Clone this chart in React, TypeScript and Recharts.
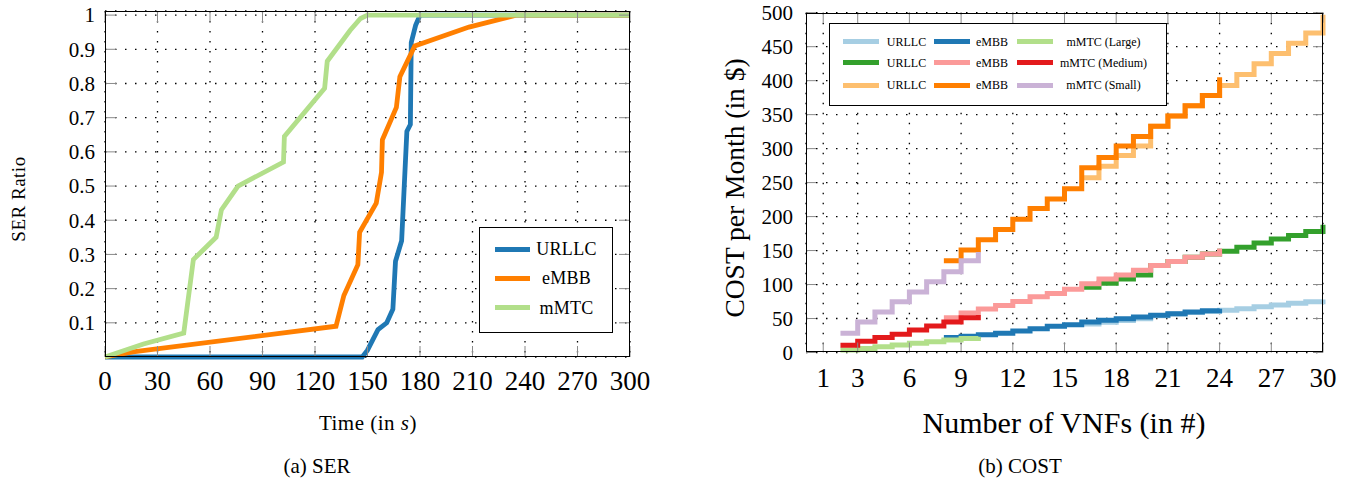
import { LineChart, Line, XAxis, YAxis, CartesianGrid } from 'recharts';

// ---- (a) SER ----
const serTicksX = [0, 30, 60, 90, 120, 150, 180, 210, 240, 270, 300];
const serTicksY = [0.1, 0.2, 0.3, 0.4, 0.5, 0.6, 0.7, 0.8, 0.9, 1];

const urllcTime = [0, 147, 150, 156, 161, 164.5, 166, 169.5, 172.5, 174.5, 175, 177.5, 180, 300];
const urllcSer = [0, 0, 0.02, 0.08, 0.1, 0.14, 0.28, 0.34, 0.66, 0.68, 0.92, 0.97, 1, 1];
const embbTime = [0, 16, 132, 136.5, 144.5, 145.5, 155, 158, 158.5, 166.5, 168.5, 177, 208, 235, 300];
const embbSer = [0, 0.015, 0.09, 0.18, 0.27, 0.365, 0.45, 0.54, 0.635, 0.73, 0.82, 0.91, 0.965, 1, 1];
const mmtcTime = [0, 22, 45, 50.5, 63.5, 66.5, 76, 102, 102.5, 125.5, 127, 140, 146, 150, 300];
const mmtcSer = [0, 0.038, 0.07, 0.285, 0.35, 0.43, 0.5, 0.57, 0.645, 0.786, 0.865, 0.955, 0.99, 1, 1];

// ---- (b) COST ----
const costTicksX = [1, 3, 6, 9, 12, 15, 18, 21, 24, 27, 30];
const costTicksY = [0, 50, 100, 150, 200, 250, 300, 350, 400, 450, 500];

const urllcVnfs = [16, 17, 18, 19, 20, 21, 22, 23, 24, 25, 26, 27, 28, 29, 30];
const embbVnfs = [8, 9, 10, 11, 12, 13, 14, 15, 16, 17, 18, 19, 20, 21, 22, 23, 24];
const mmtcVnfs = [2, 3, 4, 5, 6, 7, 8, 9, 10];

const urllcCostA = [42, 44.5, 47, 49.5, 54, 56.5, 59, 60.5, 62, 64.5, 67.5, 70, 72.5, 74.5, 78];
const embbCostA = [22, 24, 26, 28.5, 31.5, 35, 38.5, 41, 45, 47.3, 49.8, 52.2, 54.7, 57.2, 59.6, 61.5, 64.5];
const mmtcCostLarge = [3.5, 6, 8.5, 11, 13.5, 16, 18.5, 20.5, 23];
const urllcCostB = [96, 102, 108, 114, 128, 134, 140, 145, 149, 155, 161, 167, 172, 178, 188];
const embbCostB = [51, 58, 64, 69, 75, 82, 87, 93, 101, 108, 114, 121, 128, 134, 140, 145, 153];
const mmtcCostMedium = [10.5, 16.5, 22, 27, 33, 39, 45, 51, 55];
const urllcCostC = [257, 274, 290, 304, 333, 348, 363, 378, 393, 409, 425, 440, 455, 470, 497];
const embbCostC = [135, 151, 166, 181, 196, 212, 226, 241, 272, 287, 304, 318, 333, 348, 363, 378, 405];
const mmtcCostSmall = [28.5, 45, 59.5, 74.5, 89, 104, 119, 135, 148];

const zip = (xs: number[], ys: number[]) => xs.map((x, i) => ({ x, y: ys[i] }));

const serSeries = [
  { name: 'URLLC', color: '#1f78b4', data: zip(urllcTime, urllcSer) },
  { name: 'eMBB', color: '#ff7f00', data: zip(embbTime, embbSer) },
  { name: 'mMTC', color: '#b2df8a', data: zip(mmtcTime, mmtcSer) },
];

const costSeries = [
  { name: 'URLLC', color: '#a6cee3', data: zip(urllcVnfs, urllcCostA) },
  { name: 'eMBB', color: '#1f78b4', data: zip(embbVnfs, embbCostA) },
  { name: 'mMTC (Large)', color: '#b2df8a', data: zip(mmtcVnfs, mmtcCostLarge) },
  { name: 'URLLC', color: '#33a02c', data: zip(urllcVnfs, urllcCostB) },
  { name: 'eMBB', color: '#fb9a99', data: zip(embbVnfs, embbCostB) },
  { name: 'mMTC (Medium)', color: '#e31a1c', data: zip(mmtcVnfs, mmtcCostMedium) },
  { name: 'URLLC', color: '#fdbf6f', data: zip(urllcVnfs, urllcCostC) },
  { name: 'eMBB', color: '#ff7f00', data: zip(embbVnfs, embbCostC) },
  { name: 'mMTC (Small)', color: '#cab2d6', data: zip(mmtcVnfs, mmtcCostSmall) },
];

const TICK_COLOR = '#8a8a8a';

const XTick = (props: any) => {
  const { x, y, payload, size, len, off, plotH } = props;
  return (
    <g>
      <line x1={x} y1={y} x2={x} y2={y - len} stroke={TICK_COLOR} />
      <line x1={x} y1={y - plotH} x2={x} y2={y - plotH + len} stroke={TICK_COLOR} />
      <text x={x} y={y + off} textAnchor="middle" fontSize={size} fill="#000">
        {payload.value}
      </text>
    </g>
  );
};

const YTick = (props: any) => {
  const { x, y, payload, size, len, off, plotW } = props;
  return (
    <g>
      <line x1={x} y1={y} x2={x + len} y2={y} stroke={TICK_COLOR} />
      <line x1={x + plotW} y1={y} x2={x + plotW - len} y2={y} stroke={TICK_COLOR} />
      <text x={x - off} y={y} dy="0.35em" textAnchor="end" fontSize={size} fill="#000">
        {payload.value}
      </text>
    </g>
  );
};

const abs = (left: number, top: number, extra: any = {}) => ({
  position: 'absolute' as const,
  left,
  top,
  ...extra,
});

const Centered = ({ x, y, size, children, rotate, spacing = 0 }: any) => (
  <div
    style={abs(x, y, {
      transform: `translate(-50%, -50%)${rotate ? ' rotate(-90deg)' : ''}`,
      fontSize: size,
      letterSpacing: spacing,
      lineHeight: 1,
      whiteSpace: 'nowrap',
    })}
  >
    {children}
  </div>
);

export default function App() {
  return (
    <div
      style={{
        position: 'absolute',
        left: 0,
        top: 0,
        width: 1351,
        height: 482,
        background: '#fff',
        fontFamily: '"Liberation Serif", "Times New Roman", serif',
        color: '#000',
        overflow: 'hidden',
      }}
    >
      {/* ---- left: SER ---- */}
      <div style={abs(0, 0)}>
        <LineChart width={680} height={440} margin={{ top: 11, right: 50, left: 55, bottom: 43 }}>
          <CartesianGrid stroke="#000" strokeWidth={1.3} strokeDasharray="1.5 8.5" />
          <XAxis
            type="number"
            dataKey="x"
            domain={[0, 300]}
            ticks={serTicksX}
            interval={0}
            height={40}
            axisLine={false}
            tickLine={false}
            tickSize={0}
            tickMargin={0}
            tick={<XTick size={27} len={11} off={33} plotH={346} />}
          />
          <YAxis
            type="number"
            dataKey="y"
            domain={[0, 1.012]}
            ticks={serTicksY}
            interval={0}
            width={50}
            axisLine={false}
            tickLine={false}
            tickSize={0}
            tickMargin={0}
            tick={<YTick size={21} len={11} off={10} plotW={525} />}
          />
          {serSeries.map((s) => (
            <Line
              key={s.name}
              data={s.data}
              dataKey="y"
              type="linear"
              stroke={s.color}
              strokeWidth={4.8}
              dot={false}
              activeDot={false}
              isAnimationActive={false}
            />
          ))}
        </LineChart>
      </div>
      <div style={abs(105, 11, { width: 525, height: 346, border: '1.4px solid #000', boxSizing: 'border-box', pointerEvents: 'none' })} />
      <div style={abs(479, 227, { width: 134, height: 106, border: '1.5px solid #000', boxSizing: 'border-box', background: '#fff' })} />
      {serSeries.map((s, i) => (
        <div key={s.name}>
          <div style={abs(495, 249 + i * 29.3 - 2.5, { width: 35, height: 5, background: s.color })} />
          <Centered x={566.5} y={249 + i * 29.3} size={18} spacing={0.3}>
            {s.name}
          </Centered>
        </div>
      ))}
      <Centered x={18} y={199} size={19} spacing={0.5} rotate>
        SER Ratio
      </Centered>
      <Centered x={368} y={423} size={21} spacing={0.5}>
        Time (in <span style={{ fontStyle: 'italic' }}>s</span>)
      </Centered>
      <Centered x={317} y={466} size={21}>
        (a) SER
      </Centered>

      {/* ---- right: COST ---- */}
      <div style={abs(700, 0)}>
        <LineChart width={651} height={440} margin={{ top: 12.7, right: 28, left: 56, bottom: 47.5 }}>
          <CartesianGrid stroke="#000" strokeWidth={1.3} strokeDasharray="1.5 8.5" />
          <XAxis
            type="number"
            dataKey="x"
            domain={[0, 30]}
            ticks={costTicksX}
            interval={0}
            height={40}
            axisLine={false}
            tickLine={false}
            tickSize={0}
            tickMargin={0}
            tick={<XTick size={27} len={10} off={34.5} plotH={339.8} />}
          />
          <YAxis
            type="number"
            dataKey="y"
            domain={[0, 500]}
            ticks={costTicksY}
            interval={0}
            width={50}
            axisLine={false}
            tickLine={false}
            tickSize={0}
            tickMargin={0}
            tick={<YTick size={21} len={10} off={13} plotW={517} />}
          />
          {costSeries.map((s, i) => (
            <Line
              key={i}
              data={s.data}
              dataKey="y"
              type="stepAfter"
              stroke={s.color}
              strokeWidth={5}
              dot={false}
              activeDot={false}
              isAnimationActive={false}
            />
          ))}
        </LineChart>
      </div>
      <div style={abs(806, 12.7, { width: 517, height: 339.8, border: '1.4px solid #000', boxSizing: 'border-box', pointerEvents: 'none' })} />
      <div style={abs(829, 23, { width: 338, height: 83, border: '1.5px solid #000', boxSizing: 'border-box', background: '#fff' })} />
      {costSeries.map((s, i) => {
        const row = Math.floor(i / 3);
        const col = i % 3;
        const sampleX = [843, 934, 1017][col];
        const textX = [906.5, 992, 1103.5][col];
        const y = [41.7, 62.7, 85][row];
        return (
          <div key={i}>
            <div style={abs(sampleX, y - 2.5, { width: 36, height: 5, background: s.color })} />
            <Centered x={textX} y={y} size={12}>
              {s.name}
            </Centered>
          </div>
        );
      })}
      <Centered x={735} y={188} size={27.5} rotate>
        COST per Month (in $)
      </Centered>
      <Centered x={1064} y={423} size={30}>
        Number of VNFs (in #)
      </Centered>
      <Centered x={1020} y={466} size={21}>
        (b) COST
      </Centered>
    </div>
  );
}
